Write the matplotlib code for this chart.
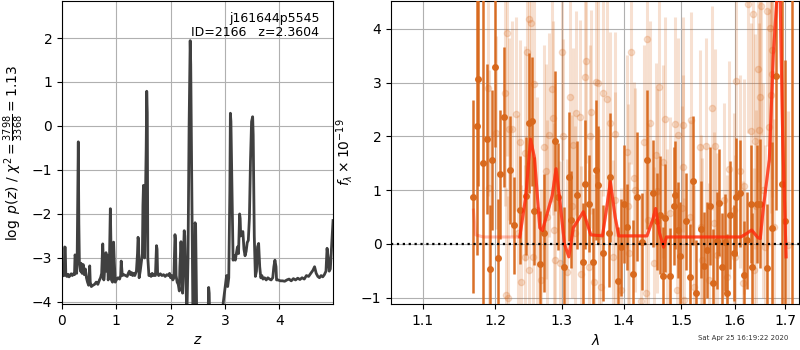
import numpy as np
import matplotlib.pyplot as plt
from matplotlib.ticker import FixedLocator, NullLocator, FixedFormatter

# log p(z) curve
z_grid = [0.00, 0.02, 0.04, 0.05, 0.06, 0.07, 0.09, 0.11, 0.13, 0.15, 0.17, 0.19, 0.21, 0.23,
          0.24, 0.25, 0.26, 0.27, 0.28, 0.30, 0.31, 0.32, 0.34, 0.35, 0.37, 0.39, 0.41, 0.43,
          0.45, 0.47, 0.49, 0.51, 0.52, 0.54, 0.57, 0.60, 0.63, 0.66, 0.69, 0.71, 0.73, 0.75,
          0.76, 0.77, 0.79, 0.81, 0.82, 0.84, 0.85, 0.87, 0.89, 0.90, 0.91, 0.93, 0.95, 0.96,
          0.98, 1.00, 1.03, 1.06, 1.08, 1.09, 1.11, 1.14, 1.17, 1.20, 1.22, 1.24, 1.26, 1.28,
          1.30, 1.32, 1.34, 1.37, 1.39, 1.40, 1.41, 1.42, 1.44, 1.46, 1.48, 1.49, 1.50, 1.51,
          1.52, 1.53, 1.55, 1.56, 1.57, 1.58, 1.60, 1.62, 1.64, 1.66, 1.68, 1.70, 1.72, 1.74,
          1.75, 1.76, 1.78, 1.81, 1.84, 1.87, 1.90, 1.93, 1.96, 1.98, 2.00, 2.02, 2.04, 2.06,
          2.08, 2.09, 2.10, 2.12, 2.14, 2.16, 2.17, 2.19, 2.20, 2.22, 2.23, 2.25, 2.26, 2.28,
          2.30, 2.32, 2.34, 2.36, 2.37, 2.39, 2.41, 2.44, 2.45, 2.46, 2.48, 2.55, 2.65, 2.69,
          2.70, 2.71, 2.72, 2.80, 2.90, 2.95, 2.97, 3.00, 3.03, 3.05, 3.07, 3.09, 3.10, 3.11,
          3.13, 3.15, 3.17, 3.19, 3.21, 3.23, 3.25, 3.27, 3.28, 3.29, 3.31, 3.33, 3.35, 3.37,
          3.39, 3.41, 3.43, 3.45, 3.47, 3.49, 3.51, 3.52, 3.54, 3.56, 3.58, 3.60, 3.62, 3.64,
          3.66, 3.68, 3.70, 3.73, 3.76, 3.79, 3.82, 3.85, 3.88, 3.90, 3.92, 3.94, 3.95, 3.98,
          4.02, 4.06, 4.10, 4.14, 4.18, 4.22, 4.26, 4.30, 4.34, 4.38, 4.42, 4.46, 4.50, 4.54,
          4.58, 4.62, 4.65, 4.68, 4.71, 4.74, 4.77, 4.80, 4.83, 4.86, 4.88, 4.90, 4.92, 4.94,
          4.96, 4.99]
log_pz = [-3.42, -3.38, -3.40, -2.75, -2.76, -3.38, -3.42, -3.37, -3.43, -3.39, -3.36, -3.40, -3.36, -3.38,
          -2.93, -2.97, -3.30, -3.35, -2.90, -0.36, -2.20, -3.10, -3.30, -3.12, -3.35, -3.15, -3.38, -3.25,
          -3.45, -3.55, -3.62, -3.18, -3.55, -3.65, -3.62, -3.60, -3.55, -3.60, -3.50, -3.45, -3.35, -2.68,
          -3.00, -3.50, -3.20, -2.88, -3.30, -2.95, -3.50, -3.30, -1.88, -2.60, -3.50, -3.55, -2.64, -3.00,
          -3.55, -3.50, -3.45, -3.48, -3.40, -3.07, -3.40, -3.38, -3.40, -3.42, -3.35, -3.30, -3.38, -3.33,
          -3.40, -3.35, -3.40, -3.30, -2.90, -2.53, -2.60, -3.45, -3.30, -3.10, -2.90, -1.80, -1.35, -1.45,
          -3.00, -2.20, -0.50, 0.79, 0.30, -3.00, -3.40, -3.38, -3.42, -3.35, -3.40, -3.38, -3.40, -2.72,
          -2.80, -3.35, -3.40, -3.36, -3.40, -3.38, -3.42, -3.38, -3.40, -3.35, -3.45, -3.40, -3.50, -3.45,
          -2.47, -2.60, -3.40, -3.55, -3.60, -3.75, -3.20, -2.63, -2.90, -3.80, -3.20, -2.38, -2.50, -3.55,
          -4.25, -3.00, 0.00, 1.94, 1.40, -1.50, -4.30, -4.30, -2.20, -2.25, -4.30, -5.00, -5.00, -4.30,
          -3.67, -3.80, -4.50, -5.00, -5.00, -4.30, -4.00, -3.70, -3.40, -3.65, -3.45, -1.50, 0.29, 0.10,
          -1.50, -3.05, -2.95, -3.05, -2.90, -2.75, -2.90, -2.00, -2.10, -2.50, -2.45, -2.40, -2.80, -2.95,
          -2.85, -2.65, -2.60, -2.10, -0.80, 0.10, 0.21, -0.20, -2.50, -3.42, -3.30, -2.75, -2.67, -3.20,
          -3.45, -3.40, -3.48, -3.45, -3.50, -3.45, -3.48, -3.50, -3.45, -3.20, -3.05, -3.20, -3.50, -3.50,
          -3.52, -3.52, -3.53, -3.50, -3.48, -3.52, -3.47, -3.50, -3.46, -3.49, -3.45, -3.48, -3.40, -3.42,
          -3.35, -3.28, -3.20, -3.35, -3.42, -3.45, -3.40, -3.43, -3.38, -3.30, -2.78, -3.00, -3.30, -3.25,
          -2.80, -2.15]

# binned spectrum
wave_bin = [1.169, 1.174, 1.176, 1.183, 1.188, 1.192, 1.195, 1.200, 1.204, 1.207, 1.212, 1.221,
            1.228, 1.236, 1.245, 1.249, 1.254, 1.257, 1.266, 1.273, 1.289, 1.294, 1.303, 1.311,
            1.315, 1.324, 1.334, 1.337, 1.343, 1.350, 1.354, 1.358, 1.366, 1.376, 1.378, 1.390,
            1.396, 1.400, 1.406, 1.416, 1.423, 1.432, 1.440, 1.451, 1.457, 1.462, 1.468, 1.472,
            1.480, 1.487, 1.490, 1.494, 1.499, 1.509, 1.517, 1.521, 1.528, 1.536, 1.542, 1.548,
            1.554, 1.559, 1.566, 1.570, 1.575, 1.581, 1.586, 1.592, 1.598, 1.603, 1.610, 1.619,
            1.624, 1.631, 1.634, 1.643, 1.650, 1.664, 1.674, 1.681, 1.693, 1.699, 1.715]
flux_bin = [0.88, 2.20, 3.07, 1.50, 1.95, -0.47, 1.56, 3.30, -0.27, 1.30, 2.36, 1.38,
            0.35, 0.63, 0.89, 2.25, 2.28, 0.61, -0.38, 0.20, 1.92, 0.88, -0.42, 1.25,
            0.45, 0.91, -0.34, 1.11, 0.75, -0.34, 1.38, 1.10, -0.17, 0.20, 1.24, -0.69,
            -0.06, 0.74, 0.32, -0.55, 0.88, 0.04, 1.57, 0.94, 0.42, 0.54, -0.59, 0.48,
            -0.60, 0.71, 0.91, 0.26, -0.22, 0.42, -0.62, 1.18, -0.92, 0.27, -0.41, -0.11,
            0.71, -0.73, 0.06, 0.77, -0.42, 0.03, -0.92, 0.54, -0.17, 0.88, 0.94, -0.58,
            0.07, 0.75, -0.42, 0.75, 0.75, -0.45, 0.30, 3.13, 1.12, 0.42, 5.50]
err_bin = [1.80, 2.40, 2.00, 4.00, 1.40, 1.20, 1.30, 1.50, 1.10, 1.20, 1.30, 1.00,
           0.90, 1.00, 1.10, 1.30, 1.20, 1.00, 1.00, 1.10, 1.30, 1.00, 1.10, 1.20,
           0.90, 1.00, 1.10, 1.20, 0.90, 1.00, 1.30, 1.10, 0.90, 1.00, 1.20, 1.00,
           0.90, 1.10, 0.80, 1.00, 1.20, 0.90, 1.30, 1.00, 0.90, 1.10, 0.90, 1.00,
           0.90, 1.10, 1.00, 0.90, 1.00, 0.90, 1.00, 1.20, 1.00, 0.90, 1.00, 0.90,
           1.10, 1.00, 0.90, 1.00, 1.00, 0.90, 1.10, 1.00, 0.90, 1.10, 1.00, 1.00,
           0.90, 1.10, 1.00, 1.10, 1.20, 1.20, 1.60, 2.50, 3.50, 3.00, 8.00]

# unbinned spectrum
wave_raw = [1.190, 1.191, 1.201, 1.214, 1.215, 1.217, 1.218, 1.220, 1.225, 1.231, 1.234, 1.236,
            1.238, 1.243, 1.244, 1.247, 1.249, 1.250, 1.253, 1.256, 1.257, 1.262, 1.268, 1.273,
            1.275, 1.277, 1.280, 1.285, 1.287, 1.288, 1.289, 1.297, 1.300, 1.302, 1.308, 1.313,
            1.316, 1.317, 1.321, 1.323, 1.328, 1.330, 1.337, 1.339, 1.343, 1.345, 1.346, 1.351,
            1.354, 1.357, 1.359, 1.362, 1.366, 1.372, 1.377, 1.383, 1.385, 1.386, 1.396, 1.406,
            1.407, 1.409, 1.412, 1.417, 1.420, 1.429, 1.434, 1.439, 1.440, 1.442, 1.445, 1.452,
            1.455, 1.457, 1.461, 1.468, 1.472, 1.475, 1.481, 1.490, 1.493, 1.495, 1.501, 1.503,
            1.504, 1.505, 1.517, 1.518, 1.523, 1.534, 1.536, 1.539, 1.545, 1.551, 1.557, 1.561,
            1.563, 1.567, 1.579, 1.586, 1.590, 1.598, 1.600, 1.603, 1.610, 1.617, 1.619, 1.626,
            1.632, 1.636, 1.638, 1.639, 1.641, 1.646, 1.648, 1.650, 1.652, 1.656, 1.660, 1.664,
            1.667, 1.669, 1.671, 1.673, 1.674, 1.677, 1.706]
flux_raw = [2.90, 1.04, 2.07, 2.80, -0.95, 3.93, -1.00, 2.14, 2.14, 2.42, 0.20, 1.90,
            -0.70, 1.69, -0.24, 3.58, 4.19, -0.48, 4.11, -0.24, 2.98, 0.63, -0.67, 1.81,
            1.35, 0.51, 2.03, 2.88, 2.34, 0.26, -0.30, -0.36, 3.57, 2.01, -0.52, 2.73,
            0.70, 1.84, 0.20, 2.43, 2.37, -0.55, 3.10, 3.40, -0.42, 2.00, 2.45, -0.70,
            3.02, 3.00, 0.14, -0.80, 2.80, 2.70, 2.25, -0.24, 2.05, 0.82, -0.86, 1.72,
            0.70, -0.17, 3.58, 1.22, 1.00, -1.07, 1.90, -0.92, 3.81, 0.45, 2.25, -0.36,
            1.66, 0.98, 2.92, 1.53, 2.32, 0.07, 0.57, 2.23, -0.86, 2.03, 0.66, 2.22,
            1.44, -1.05, 0.51, 2.31, -0.80, 1.80, 0.32, -0.30, 1.83, -0.67, 2.53, 0.39,
            1.83, -0.20, 0.82, -0.61, 1.40, 0.63, -0.24, 3.04, 1.35, -0.73, 1.07, 4.47,
            2.11, 4.27, -0.48, 1.91, 0.70, 3.26, 2.12, 2.73, 4.43, 1.00, -0.05, 4.33,
            2.17, 4.02, 2.78, 3.61, 3.17, 0.32, -0.02]
err_raw = [2.0, 2.2, 1.8, 2.1, 2.0, 2.3, 1.9, 1.7, 2.0, 1.8, 2.2, 1.9,
           1.8, 2.0, 1.7, 2.1, 1.9, 2.0, 2.2, 1.8, 1.9, 2.1, 1.7, 1.9,
           2.0, 1.8, 1.9, 2.1, 1.8, 2.0, 1.7, 1.9, 2.0, 1.8, 2.1, 1.9,
           1.7, 1.8, 2.0, 1.9, 1.8, 2.0, 2.1, 1.9, 1.8, 1.7, 1.9, 2.0,
           1.8, 1.9, 2.0, 1.8, 1.9, 2.0, 1.7, 1.8, 1.9, 2.0, 1.9, 1.8,
           1.9, 1.7, 2.1, 1.8, 1.9, 2.0, 1.8, 1.9, 2.2, 1.8, 1.9, 1.8,
           1.7, 1.9, 2.0, 1.8, 1.9, 1.7, 1.8, 2.0, 1.9, 1.8, 1.9, 2.0,
           1.7, 1.9, 1.8, 2.0, 1.9, 1.8, 1.7, 1.9, 2.0, 1.8, 1.9, 1.7,
           1.8, 1.9, 1.8, 1.9, 2.0, 1.8, 1.9, 2.1, 1.8, 1.9, 2.0, 2.4,
           2.0, 2.3, 1.9, 2.0, 1.8, 2.1, 2.0, 1.9, 2.4, 2.0, 1.9, 2.5,
           2.2, 2.5, 2.2, 2.4, 2.3, 2.0, 2.5]

# best-fit template
wave_model = [1.169, 1.172, 1.183, 1.236, 1.245, 1.252, 1.258, 1.266, 1.270, 1.285, 1.291, 1.297,
              1.304, 1.311, 1.318, 1.334, 1.346, 1.365, 1.371, 1.378, 1.386, 1.392, 1.440, 1.450,
              1.455, 1.462, 1.469, 1.474, 1.612, 1.624, 1.633, 1.645, 1.650, 1.656, 1.668, 1.676,
              1.684, 1.690, 1.695, 1.702]
flux_model = [0.63, 0.17, 0.13, 0.13, 0.90, 1.95, 1.60, 0.30, 0.25, 0.90, 1.40, 0.80,
              0.00, -0.24, 0.30, 0.60, 0.17, 0.15, 0.60, 1.16, 0.50, 0.15, 0.15, 0.45,
              0.66, 0.20, -0.06, 0.13, 0.13, 0.20, 0.26, 0.12, 0.10, 0.66, 1.57, 3.50,
              4.70, 4.50, 2.00, -0.24]

xticks = [1.1, 1.2, 1.3, 1.4, 1.5, 1.6, 1.7]

spec_color = '#d8681c'
model_color = '#ff2a0a'

fig = plt.figure(figsize=(8, 3.5), dpi=100)
ax1 = fig.add_axes([0.0775, 0.131, 0.3388, 0.866])
ax2 = fig.add_axes([0.489, 0.131, 0.510, 0.866])

# redshift PDF panel
ax1.plot(z_grid, log_pz, color='0.25', lw=2)
ax1.set_xlim(0, 4.99)
ax1.set_ylim(-4.05, 2.84)
ax1.set_xticks([0, 1, 2, 3, 4])
ax1.grid()
ax1.set_xlabel(r'$z$')
ax1.set_ylabel(r'$\log\ p(z)$' + ' / ' + r'$\chi^2=\frac{3798}{3368}=1.13$')
ax1.text(0.95, 0.965, 'j161644p5545\nID=2166   z=2.3604', ha='right', va='top',
         transform=ax1.transAxes, fontsize=9, linespacing=1.1)

# spectrum panel
ax2.errorbar(wave_raw, flux_raw, yerr=err_raw, color=spec_color, alpha=0.2,
             marker='o', ms=4.5, ls='none', elinewidth=2.2, zorder=2)
ax2.errorbar(wave_bin, flux_bin, yerr=err_bin, color=spec_color, alpha=0.95,
             marker='o', ms=4, ls='none', elinewidth=1.8, zorder=3)
ax2.plot(wave_model, flux_model, color=model_color, alpha=0.3, lw=2.2, zorder=4)
m = np.array(wave_model) >= 1.236
ax2.plot(np.array(wave_model)[m], np.array(flux_model)[m], color=model_color,
         alpha=0.75, lw=2.2, zorder=5)
ax2.axhline(0, color='k', ls=':', lw=1.6, zorder=6)

ax2.set_xscale('log')
ax2.xaxis.set_major_locator(FixedLocator(xticks))
ax2.xaxis.set_major_formatter(FixedFormatter([f'{t:.1f}' for t in xticks]))
ax2.xaxis.set_minor_locator(NullLocator())
ax2.set_xlim(1.059, 1.729)
ax2.set_ylim(-1.12, 4.52)
ax2.grid()
ax2.set_xlabel(r'$\lambda$')
ax2.set_ylabel(r'$f_\lambda\times10^{-19}$')

fig.text(0.985, 0.025, 'Sat Apr 25 16:19:22 2020', ha='right', va='bottom',
         fontsize=5, color='0.2')

fig.savefig('out.png', dpi=100)
